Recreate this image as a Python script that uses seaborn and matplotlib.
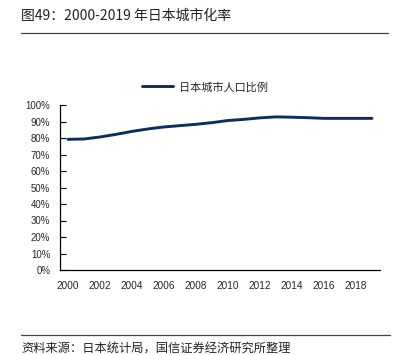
import numpy as np
import pandas as pd
import matplotlib
matplotlib.use("Agg")
import matplotlib.pyplot as plt
import seaborn as sns
from matplotlib.lines import Line2D
from matplotlib.ticker import FixedLocator, PercentFormatter

years = list(range(2000, 2020))
urban_ratio = [79.2, 79.4, 80.6, 82.2, 84.0, 85.5, 86.7, 87.5, 88.3, 89.3,
               90.6, 91.3, 92.2, 92.8, 92.6, 92.3, 91.9, 91.9, 91.9, 91.9]
series_name = "日本城市人口比例"
title = "图49：2000-2019 年日本城市化率"
source = "资料来源：日本统计局，国信证券经济研究所整理"

df = pd.DataFrame({"year": years, "ratio": urban_ratio})

sns.set_theme(style="white")
plt.rcParams['font.family'] = ['Noto Sans CJK SC', 'DejaVu Sans']

fig = plt.figure(figsize=(4.01, 3.55), dpi=100)
ax = fig.add_axes([60 / 401, 1 - 270 / 355, 320 / 401, 165 / 355])

line_color = "#0b2e62"
sns.lineplot(data=df, x="year", y="ratio", ax=ax, color=line_color, linewidth=2.1)

ax.set_xlim(1999.5, 2019.5)
ax.set_ylim(0, 100)
ax.set_xlabel("")
ax.set_ylabel("")

# tick marks sit between categories, labels in the middle
ax.xaxis.set_major_locator(FixedLocator(years[::2]))
ax.xaxis.set_minor_locator(FixedLocator(np.arange(1999.5, 2020, 2)))
ax.set_xticklabels([str(y) for y in years[::2]], family=['Liberation Sans'], fontsize=7.2)
ax.tick_params(axis="x", which="major", length=0, pad=8)
ax.tick_params(axis="x", which="minor", length=4, width=0.8, direction="in", color="black")

ax.set_yticks(np.arange(0, 101, 10))
ax.yaxis.set_major_formatter(PercentFormatter(decimals=0))
for lbl in ax.get_yticklabels():
    lbl.set_family(['Liberation Sans'])
    lbl.set_fontsize(6.9)
ax.tick_params(axis="y", length=4, width=0.8, direction="in", color="black", pad=7, left=True)

sns.despine(ax=ax)
for side in ["left", "bottom"]:
    ax.spines[side].set_color("black")
    ax.spines[side].set_linewidth(0.9)

handle = Line2D([0], [0], color=line_color, linewidth=2.1)
fig.legend([handle], [series_name], loc="center", bbox_to_anchor=(205 / 401, 1 - 87 / 355),
           frameon=False, fontsize=8, handlelength=2.8, handletextpad=0.5)

fig.text(21 / 401, 1 - 16 / 355, title, fontsize=10, va="center", ha="left", color="#222222")
fig.add_artist(Line2D([21 / 401, 388 / 401], [1 - 33 / 355, 1 - 33 / 355], color="#444444", linewidth=0.9))
fig.add_artist(Line2D([21 / 401, 390 / 401], [1 - 335 / 355, 1 - 335 / 355], color="#444444", linewidth=0.9))
fig.text(21 / 401, 1 - 349 / 355, source, fontsize=8.8, va="center", ha="left", color="#222222")

fig.savefig("out.png", dpi=100)
